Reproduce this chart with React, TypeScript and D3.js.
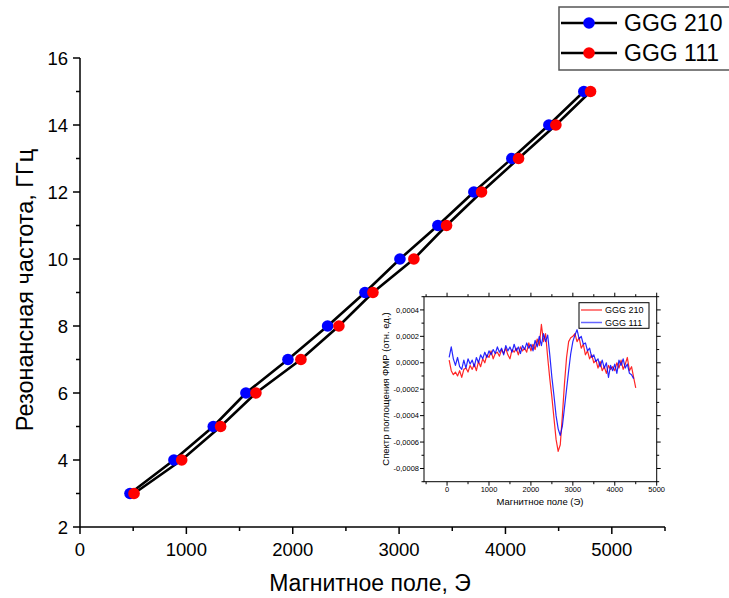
import React from "react";
import * as d3 from "d3";

const FONT = "'Liberation Sans', Arial, sans-serif";

// Main chart data: resonance frequency (GHz) vs magnetic field (Oe)
const freqGHz = [3, 4, 5, 6, 7, 8, 9, 10, 11, 12, 13, 14, 15];
const field210 = [470, 883, 1253, 1560, 1955, 2328, 2679, 3008, 3365, 3703, 4060, 4408, 4737];
const field111 = [508, 956, 1322, 1654, 2077, 2434, 2754, 3139, 3446, 3775, 4123, 4474, 4800];
const seriesNames = ["GGG 210", "GGG 111"];

const mainXTicks = [0, 1000, 2000, 3000, 4000, 5000];
const mainYTicks = [2, 4, 6, 8, 10, 12, 14, 16];

// Inset: FMR absorption spectra (values in units of 1e-4)
const specField = [
  50, 100, 150, 200, 250, 300, 350, 400, 450, 500,
  550, 600, 650, 700, 750, 800, 850, 900, 950, 1000,
  1050, 1100, 1150, 1200, 1250, 1300, 1350, 1400, 1450, 1500,
  1550, 1600, 1650, 1700, 1750, 1800, 1850, 1900, 1950, 2000,
  2050, 2100, 2150, 2200, 2250, 2300, 2350, 2400, 2450, 2500,
  2550, 2600, 2650, 2700, 2750, 2800, 2850, 2900, 2950, 3000,
  3050, 3100, 3150, 3200, 3250, 3300, 3350, 3400, 3450, 3500,
  3550, 3600, 3650, 3700, 3750, 3800, 3850, 3900, 3950, 4000,
  4050, 4100, 4150, 4200, 4250, 4300, 4350, 4400, 4450, 4500,
];
const spec210 = [
  0.2, -0.6, -0.9, -0.7, -1.0, -0.6, -1.1, -0.5, -0.4, -0.7,
  -0.2, -0.5, -0.1, -0.6, 0.1, -0.3, 0.3, 0.0, 0.6, 0.4,
  0.9, 0.3, 0.7, 0.8, 0.5, 1.0, 0.7, 1.1, 0.6, 0.3,
  1.0, 0.8, 1.1, 0.6, 1.2, 0.9, 1.1, 0.8, 1.5, 0.9,
  1.4, 1.0, 1.8, 1.3, 2.9, 1.6, 2.2, 0.4, -1.2, -2.6,
  -4.2, -5.8, -6.7, -6.2, -4.0, -1.6, 0.4, 1.6, 1.9, 2.0,
  2.2, 1.6, 1.9, 1.1, 1.4, 0.6, 0.9, 0.3, 0.6, 0.0,
  0.2, -0.4, 0.1, -0.6, -0.3, -0.8, -0.2, -0.5, -0.3, -0.6,
  0.0, -0.4, 0.2, -0.5, -0.1, 0.4, -0.6, -0.3, -1.1, -1.9,
];
const spec111 = [
  0.4, 1.2, 0.3, -0.2, 0.4, -0.3, -0.5, 0.2, -0.4, 0.3,
  -0.1, 0.2, -0.3, 0.4, 0.0, 0.6, 0.3, 0.8, 0.4, 0.9,
  0.6, 1.0, 0.7, 1.2, 0.8, 1.1, 0.6, 1.3, 0.9, 1.2,
  0.8, 1.4, 0.9, 1.2, 0.7, 1.3, 1.0, 1.5, 1.1, 1.4,
  0.9, 1.7, 1.2, 2.0, 1.3, 2.2, 1.6, 2.1, 0.6, -1.1,
  -2.5, -4.0, -5.0, -5.5, -4.8, -3.4, -2.0, -0.6, 0.7, 1.6,
  2.1, 2.5, 1.8, 2.0, 1.4, 1.5, 0.9, 1.1, 0.4, 0.6,
  0.1, 0.3, -0.3, 0.2, -0.4, 0.0, -1.1, -0.2, -0.6, -0.1,
  -0.8, 0.2, -0.2, 0.3, -0.4, -0.1, -0.8, -0.9, -1.2,
];
const insetNames = ["GGG 210", "GGG 111"];
const insetXTicks = [0, 1000, 2000, 3000, 4000, 5000];
const insetYTicks = [0.0004, 0.0002, 0, -0.0002, -0.0004, -0.0006, -0.0008];

export default function App() {
  const W = 729, H = 598;
  // main scales
  const x = d3.scaleLinear().domain([0, 5500]).range([80, 665]);
  const y = d3.scaleLinear().domain([2, 16]).range([527, 58]);
  const line = d3.line<[number, number]>().x(d => x(d[0])).y(d => y(d[1]));
  const pts210: [number, number][] = field210.map((f, i) => [f, freqGHz[i]]);
  const pts111: [number, number][] = field111.map((f, i) => [f, freqGHz[i]]);

  const xMinor = d3.range(500, 5500, 1000);
  const yMinor = d3.range(3, 16, 2);

  // inset scales
  const ix = d3.scaleLinear().domain([-550, 5000]).range([424, 656.7]);
  const iy = d3.scaleLinear().domain([-0.0009, 0.0005]).range([481.7, 296.7]);
  const iline = d3.line<[number, number]>().x(d => ix(d[0])).y(d => iy(d[1] * 1e-4));
  const s210: [number, number][] = spec210.map((v, i) => [specField[i], v]);
  const s111: [number, number][] = spec111.map((v, i) => [specField[i], v]);
  const ixMinor = [-500, 500, 1500, 2500, 3500, 4500];
  const iyMinor = [0.0005, 0.0003, 0.0001, -0.0001, -0.0003, -0.0005, -0.0007, -0.0009];
  const fmt = (v: number) => d3.format(".4f")(v).replace(".", ",").replace("−", "-");
  const L = 424, R = 656.7, T = 296.7, B = 481.7;

  return (
    <svg width={W} height={H} style={{ position: "absolute", left: 0, top: 0, background: "#fff" }} fontFamily={FONT}>
      <rect x={0} y={0} width={W} height={H} fill="#fff" />
      {/* main axes */}
      <line x1={80} x2={80} y1={58} y2={527} stroke="#000" strokeWidth={1.5} />
      <line x1={80} x2={665} y1={527} y2={527} stroke="#000" strokeWidth={1.5} />
      {mainYTicks.map(t => (
        <g key={"yt" + t}>
          <line x1={73} x2={80} y1={y(t)} y2={y(t)} stroke="#000" strokeWidth={1.5} />
          <text x={68} y={y(t) + 6.5} fontSize={18.5} textAnchor="end">{t}</text>
        </g>
      ))}
      {yMinor.map(t => (
        <line key={"ym" + t} x1={76} x2={80} y1={y(t)} y2={y(t)} stroke="#000" strokeWidth={1.5} />
      ))}
      {mainXTicks.map(t => (
        <g key={"xt" + t}>
          <line x1={x(t)} x2={x(t)} y1={527} y2={534} stroke="#000" strokeWidth={1.5} />
          <text x={x(t)} y={556} fontSize={18.5} textAnchor="middle">{t}</text>
        </g>
      ))}
      {xMinor.map(t => (
        <line key={"xm" + t} x1={x(t)} x2={x(t)} y1={527} y2={531} stroke="#000" strokeWidth={1.5} />
      ))}
      <line x1={665} x2={665} y1={527} y2={531} stroke="#000" strokeWidth={1.5} />
      <text x={370} y={591} fontSize={23} textAnchor="middle">Магнитное поле, Э</text>
      <text transform="translate(33,290) rotate(-90)" fontSize={23.5} textAnchor="middle">Резонансная частота, ГГц</text>

      {/* main series */}
      <path d={line(pts210) || ""} fill="none" stroke="#000" strokeWidth={2.6} />
      <path d={line(pts111) || ""} fill="none" stroke="#000" strokeWidth={2.6} />
      {pts210.map((p, i) => <circle key={"b" + i} cx={x(p[0])} cy={y(p[1])} r={5.8} fill="#0000ff" />)}
      {pts111.map((p, i) => <circle key={"r" + i} cx={x(p[0])} cy={y(p[1])} r={5.8} fill="#ff0000" />)}

      {/* main legend */}
      <rect x={559} y={7} width={200} height={63} fill="#fff" stroke="#555" strokeWidth={1.5} />
      {seriesNames.map((n, i) => (
        <g key={"lg" + n}>
          <line x1={561} x2={617} y1={23 + i * 30} y2={23 + i * 30} stroke="#000" strokeWidth={2.6} />
          <circle cx={589} cy={23 + i * 30} r={5.8} fill={i === 0 ? "#0000ff" : "#ff0000"} />
          <text x={624} y={31 + i * 30} fontSize={23}>{n}</text>
        </g>
      ))}

      {/* inset */}
      <rect x={L} y={T} width={R - L} height={B - T} fill="#fff" stroke="#000" strokeWidth={1} />
      {insetXTicks.map(t => (
        <g key={"ixt" + t}>
          <line x1={ix(t)} x2={ix(t)} y1={B} y2={B + 4} stroke="#000" strokeWidth={1} />
          <line x1={ix(t)} x2={ix(t)} y1={T} y2={T - 4} stroke="#000" strokeWidth={1} />
          <text x={ix(t)} y={492} fontSize={7.5} textAnchor="middle">{t}</text>
        </g>
      ))}
      {ixMinor.map(t => (
        <g key={"ixm" + t}>
          <line x1={ix(t)} x2={ix(t)} y1={B} y2={B + 2.5} stroke="#000" strokeWidth={1} />
          <line x1={ix(t)} x2={ix(t)} y1={T} y2={T - 2.5} stroke="#000" strokeWidth={1} />
        </g>
      ))}
      {insetYTicks.map(t => (
        <g key={"iyt" + t}>
          <line x1={L - 4} x2={L} y1={iy(t)} y2={iy(t)} stroke="#000" strokeWidth={1} />
          <line x1={R} x2={R + 4} y1={iy(t)} y2={iy(t)} stroke="#000" strokeWidth={1} />
          <text x={L - 5} y={iy(t) + 2.6} fontSize={7.5} textAnchor="end">{fmt(t)}</text>
        </g>
      ))}
      {iyMinor.map(t => (
        <g key={"iym" + t}>
          <line x1={L - 2.5} x2={L} y1={iy(t)} y2={iy(t)} stroke="#000" strokeWidth={1} />
          <line x1={R} x2={R + 2.5} y1={iy(t)} y2={iy(t)} stroke="#000" strokeWidth={1} />
        </g>
      ))}
      <text x={540} y={505} fontSize={9.5} textAnchor="middle">Магнитное поле (Э)</text>
      <text transform="translate(389,389) rotate(-90)" fontSize={9.5} textAnchor="middle">Спектр поглощения ФМР (отн. ед.)</text>
      <path d={iline(s210) || ""} fill="none" stroke="#ff0000" strokeWidth={1.2} strokeOpacity={0.85} strokeLinejoin="round" />
      <path d={iline(s111) || ""} fill="none" stroke="#0000ff" strokeWidth={1.2} strokeOpacity={0.85} strokeLinejoin="round" />

      {/* inset legend */}
      <rect x={579} y={302.7} width={70} height={25.6} fill="#fff" stroke="#000" strokeWidth={1} />
      {insetNames.map((n, i) => (
        <g key={"ilg" + n}>
          <line x1={581} x2={602} y1={310 + i * 12.5} y2={310 + i * 12.5} stroke={i === 0 ? "#ff5555" : "#6666ff"} strokeWidth={1.5} />
          <text x={605} y={313.3 + i * 12.5} fontSize={9}>{n}</text>
        </g>
      ))}
    </svg>
  );
}
